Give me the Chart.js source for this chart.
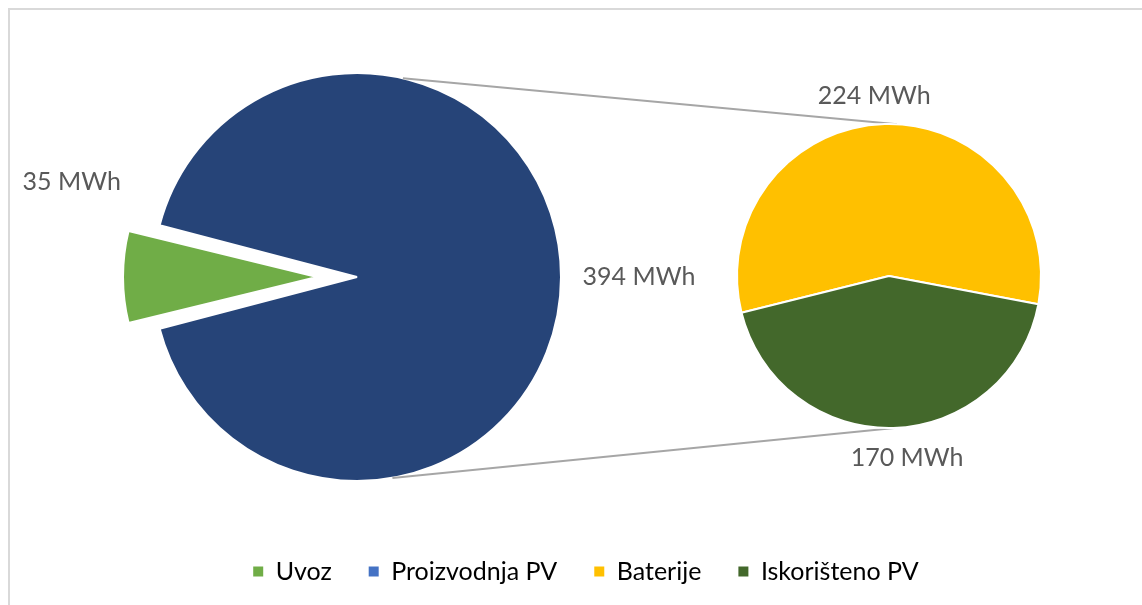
<!DOCTYPE html>
<html>
<head>
<meta charset="utf-8">
<title>Energija</title>
<script src="https://cdn.jsdelivr.net/npm/chart.js@4/dist/chart.umd.min.js"></script>
<style>
html, body { margin: 0; padding: 0; background: #fff; overflow: hidden; }
#wrap { position: relative; width: 1142px; height: 605px; overflow: hidden; }
#frame { position: absolute; left: 8px; top: 8px; width: 1300px; height: 800px; border: 2px solid #d9d9d9; }
canvas { position: absolute; left: 0; top: 0; }
</style>
</head>
<body>
<div id="wrap">
  <div id="frame"></div>
  <canvas id="main" width="1142" height="605"></canvas>
  <canvas id="detail" width="1142" height="605"></canvas>
</div>
<script>
// main pie: import vs. PV production, PV production split in the small pie
var mainLabels = ['Uvoz', 'Proizvodnja PV'];
var mainValues = [35, 394];
var detailLabels = ['Baterije', 'Iskorišteno PV'];
var detailValues = [224, 170];
var unit = ' MWh';

var mainColors = ['#70ad47', '#264478'];
var detailColors = ['#ffc000', '#43682b'];
var legendColors = ['#70ad47', '#4472c4', '#ffc000', '#43682b'];

var FONT = 'Lato';
var TEXT = '#595959';

var mainTotal = mainValues[0] + mainValues[1];

// value labels placed around each slice
var valueLabels = {
    id: 'valueLabels',
    afterDatasetsDraw: function(chart, args, opts){
        var ctx = chart.ctx;
        var arcs = chart.getDatasetMeta(0).data;
        var values = chart.data.datasets[0].data;
        ctx.save();
        ctx.font = opts.size + 'px ' + FONT;
        ctx.fillStyle = TEXT;
        ctx.textAlign = 'center';
        ctx.textBaseline = 'middle';
        for(var i = 0; i < arcs.length; i++){
            var a = arcs[i];
            var mid = (a.startAngle + a.endAngle) / 2 + opts.turn[i] * Math.PI / 180;
            var d = a.outerRadius + opts.gap[i];
            ctx.fillText(values[i] + unit, a.x + Math.cos(mid) * d, a.y + Math.sin(mid) * d);
        }
        ctx.restore();
    }
};

// the pulled-out slice is drawn a little smaller
var shrinkExploded = {
    id: 'shrinkExploded',
    afterDatasetsUpdate: function(chart, args, opts){
        var arc = chart.getDatasetMeta(0).data[0];
        arc.outerRadius = arc.outerRadius * opts.ratio;
    }
};

var mainChart = new Chart(document.getElementById('main'), {
    type: 'pie',
    data: {
        labels: mainLabels,
        datasets: [{
            data: mainValues,
            backgroundColor: mainColors,
            borderColor: '#fff',
            borderWidth: 2,
            offset: [160, 0],
            radius: 204
        }]
    },
    options: {
        responsive: false,
        animation: false,
        events: [],
        rotation: 270 - 180 * mainValues[0] / mainTotal,
        layout: { padding: { left: 30, right: 0, top: 32, bottom: 11 } },
        plugins: {
            // empty title on the right keeps room for the small pie
            title: {
                display: true, position: 'right', text: '',
                font: { size: 10, lineHeight: 1 },
                padding: { top: 0, bottom: 448 }
            },
            legend: {
                position: 'bottom',
                labels: {
                    boxWidth: 10,
                    boxHeight: 10,
                    padding: 37,
                    color: TEXT,
                    font: { family: FONT, size: 25 },
                    generateLabels: function(){
                        return mainLabels.concat(detailLabels).map(function(t, i){
                            return { text: t, fillStyle: legendColors[i], strokeStyle: legendColors[i],
                                     lineWidth: 0, hidden: false, index: i };
                        });
                    }
                }
            },
            tooltip: { enabled: false },
            valueLabels: { size: 25, turn: [18.4, 0], gap: [127, 78] },
            shrinkExploded: { ratio: 0.851 }
        }
    },
    plugins: [valueLabels, shrinkExploded]
});

// grey lines joining the big pie to the small one
var connectors = {
    id: 'connectors',
    beforeDatasetsDraw: function(chart, args, opts){
        var big = mainChart.getDatasetMeta(0).data[1];
        var small = chart.getDatasetMeta(0).data[0];
        var ctx = chart.ctx;
        ctx.save();
        ctx.strokeStyle = '#a6a6a6';
        ctx.lineWidth = 2;
        for(var i = 0; i < 2; i++){
            var a1 = opts.mainAt[i] * Math.PI / 180;
            var a2 = opts.detailAt[i] * Math.PI / 180;
            ctx.beginPath();
            ctx.moveTo(big.x + Math.cos(a1) * big.outerRadius, big.y + Math.sin(a1) * big.outerRadius);
            ctx.lineTo(small.x + Math.cos(a2) * small.outerRadius, small.y + Math.sin(a2) * small.outerRadius);
            ctx.stroke();
        }
        ctx.restore();
    }
};

var detailChart = new Chart(document.getElementById('detail'), {
    type: 'pie',
    data: {
        labels: detailLabels,
        datasets: [{
            data: detailValues,
            backgroundColor: detailColors,
            borderColor: '#fff',
            borderWidth: 2,
            radius: 152
        }]
    },
    options: {
        responsive: false,
        animation: false,
        events: [],
        rotation: 256,
        layout: { padding: { left: 636, right: 0, top: 0, bottom: 53 } },
        plugins: {
            legend: { display: false },
            tooltip: { enabled: false },
            valueLabels: { size: 25, turn: [-3, -4], gap: [29, 31] },
            connectors: { mainAt: [-77, 80], detailAt: [-87, 88] }
        }
    },
    plugins: [connectors, valueLabels]
});
</script>
</body>
</html>
